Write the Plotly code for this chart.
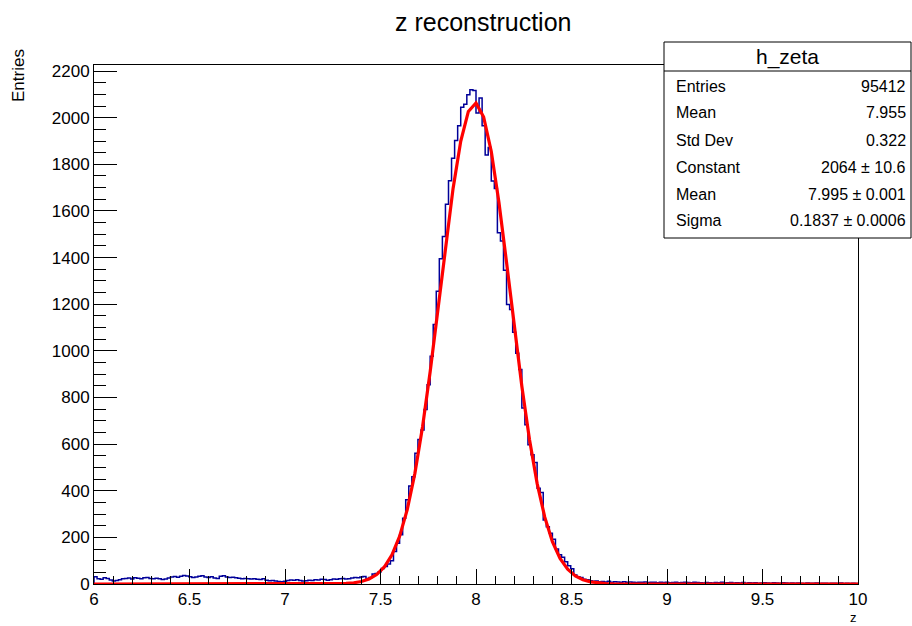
import numpy as np
import plotly.graph_objects as go

# ---------------- data ----------------
hist_title = "z reconstruction"
hist_name = "h_zeta"
x_min, x_max, n_bins = 6.0, 10.0, 250

counts = [
    31, 22, 20, 27, 24, 17, 13, 15, 18, 22,
    24, 26, 21, 27, 25, 22, 27, 28, 24, 23,
    25, 22, 19, 21, 26, 30, 32, 29, 33, 36,
    34, 31, 28, 30, 33, 35, 30, 28, 31, 26,
    24, 33, 35, 30, 28, 29, 27, 25, 23, 24,
    22, 21, 23, 20, 19, 22, 16, 14, 15, 13,
    11, 10, 12, 15, 17, 16, 18, 15, 13, 14,
    16, 15, 18, 17, 20, 19, 16, 18, 21, 20,
    22, 24, 21, 23, 26, 28, 27,
    30, 32, 24, 28, 43, 45, 53, 67, 75, 86, 100, 139, 175,
    211, 282, 361, 420, 460, 561, 620, 660, 748, 855, 977, 1113,
    1256, 1395, 1490, 1629, 1730, 1826, 1902, 1965, 2045, 2058, 2098, 2120, 2117,
    2020, 2084, 1965, 1840, 1872, 1729, 1696, 1507, 1471, 1346, 1199, 1177, 1080, 990,
    920, 755, 683, 597, 554, 521, 411, 392, 275, 246, 218, 192, 150, 125, 115, 95, 78, 65, 39, 31, 28, 20, 18,
    14, 12, 13, 10, 11, 9, 12, 8,
    10, 9, 8, 10, 7, 9, 8, 6, 8, 7,
    9, 6, 7, 8, 5, 7, 6, 8, 5, 6,
    7, 5, 6, 8, 6, 5, 7, 6, 5, 4,
    6, 5, 4, 6, 5, 7, 4, 5, 6, 4,
    5, 4, 6, 3, 5, 4, 5, 3, 4, 5,
    4, 3, 5, 4, 3, 5, 4, 3, 4, 3,
    4, 3, 2, 4, 3, 3, 4, 2, 3, 3,
    2, 3, 3, 2, 4, 2, 3, 2, 3, 2,
]
assert len(counts) == n_bins

# fit parameters (gaus) as shown in the stats box
fit_constant = 2064.0
fit_mean = 7.995
fit_sigma = 0.1837

stats_labels = ["Entries", "Mean", "Std Dev", "Constant", "Mean", "Sigma"]
stats_values = ["95412", "7.955", "0.322", "2064 ± 10.6", "7.995 ± 0.001", "0.1837 ± 0.0006"]

y_ticks = [0, 200, 400, 600, 800, 1000, 1200, 1400, 1600, 1800, 2000, 2200]
x_ticks = [6, 6.5, 7, 7.5, 8, 8.5, 9, 9.5, 10]
x_tick_text = ["6", "6.5", "7", "7.5", "8", "8.5", "9", "9.5", "10"]

# ---------------- figure ----------------
W, H = 912, 626
L, R, T, B = 94, 54, 65, 42
PW, PH = W - L - R, H - T - B

def px(xp):
    return (xp - L) / PW

def py(yp):
    return (H - B - yp) / PH

edges = np.linspace(x_min, x_max, n_bins + 1)
hx = np.concatenate([[edges[0]], edges])
hy = np.concatenate([[0], counts, [0]])

fx = np.linspace(x_min, x_max, 101)
fy = fit_constant * np.exp(-0.5 * ((fx - fit_mean) / fit_sigma) ** 2)

fig = go.Figure()
fig.add_trace(go.Scatter(x=hx, y=hy, mode="lines", line=dict(color="#000099", width=1.5, shape="hv"),
                         hoverinfo="skip", showlegend=False))
fig.add_trace(go.Scatter(x=fx, y=fy, mode="lines", line=dict(color="#ff0000", width=3.2),
                         hoverinfo="skip", showlegend=False))

font_family = "Liberation Sans, Arial, sans-serif"
ymax = 1.05 * max(counts)

fig.update_layout(
    width=W, height=H, autosize=False,
    margin=dict(l=L, r=R, t=T, b=B),
    paper_bgcolor="white", plot_bgcolor="white",
    font=dict(family=font_family, color="black", size=17),
    xaxis=dict(range=[x_min, x_max], tickvals=x_ticks, ticktext=x_tick_text,
               ticks="inside", ticklen=15, tickwidth=1, tickcolor="black",
               minor=dict(dtick=0.1, tick0=6, ticks="inside", ticklen=8, tickcolor="black"),
               showline=True, linecolor="black", linewidth=1, mirror=True,
               showgrid=False, zeroline=False, tickfont=dict(size=17)),
    yaxis=dict(range=[0, ymax], tickvals=y_ticks,
               ticks="inside", ticklen=23, tickwidth=1, tickcolor="black",
               minor=dict(dtick=50, tick0=0, ticks="inside", ticklen=12, tickcolor="black"),
               showline=True, linecolor="black", linewidth=1, mirror=True,
               showgrid=False, zeroline=False, tickfont=dict(size=17)),
)

# stats box
bx0, bx1 = px(664), px(911)
by1, by0 = py(42), py(238)
hdr = py(71)
fig.add_shape(type="rect", xref="paper", yref="paper", x0=bx0, x1=bx1, y0=by0, y1=by1,
              line=dict(color="black", width=1), fillcolor="white", layer="above")
fig.add_shape(type="line", xref="paper", yref="paper", x0=bx0, x1=bx1, y0=hdr, y1=hdr,
              line=dict(color="black", width=1), layer="above")

annotations = [
    dict(text=hist_name, x=px(787.5), y=py(57), xanchor="center", yanchor="middle",
         font=dict(size=21)),
]
row_y = [86, 113, 140, 167, 194, 221]
for lab, val, ry in zip(stats_labels, stats_values, row_y):
    annotations.append(dict(text=lab, x=px(674), y=py(ry), xanchor="left", yanchor="middle",
                            font=dict(size=16)))
    annotations.append(dict(text=val, x=px(908), y=py(ry), xanchor="right", yanchor="middle",
                            font=dict(size=16)))
annotations.append(dict(text=hist_title, x=px(483), y=py(22), xanchor="center", yanchor="middle",
                        font=dict(size=25)))
annotations.append(dict(text="Entries", x=px(19), y=py(76), xanchor="center", yanchor="middle",
                        textangle=-90, font=dict(size=17)))
annotations.append(dict(text="z", x=px(853), y=py(626), xanchor="center", yanchor="bottom",
                        font=dict(size=13), borderpad=0))
for a in annotations:
    a.update(xref="paper", yref="paper", showarrow=False)
fig.update_layout(annotations=annotations)

fig.write_html("out.html", config={"displayModeBar": False})

# remove the default page margin so the figure sits at the window's top-left corner
with open("out.html", "r", encoding="utf-8") as f:
    html = f.read()
html = html.replace("<head>", "<head><style>html,body{margin:0;padding:0;overflow:hidden;}</style>", 1)
with open("out.html", "w", encoding="utf-8") as f:
    f.write(html)
